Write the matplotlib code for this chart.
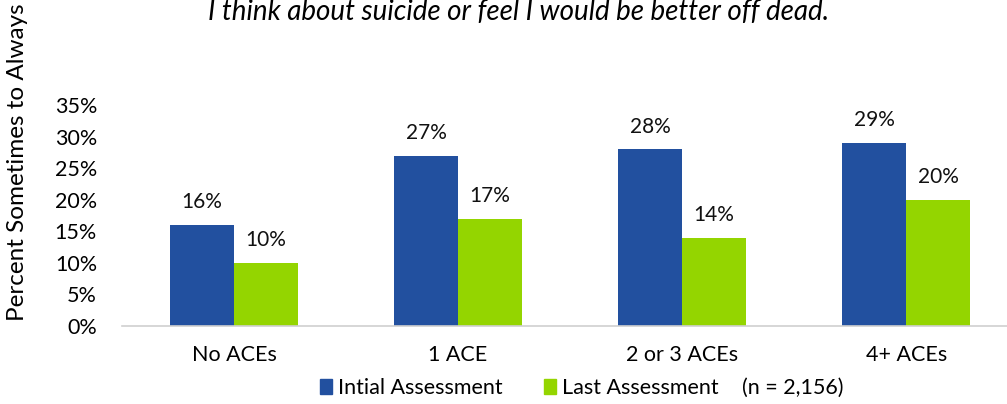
import numpy as np
import matplotlib
matplotlib.use("Agg")
import matplotlib.pyplot as plt
from matplotlib.patches import Patch

plt.rcParams['font.family'] = ['Lato', 'DejaVu Sans']

# Data
groups = ['No ACEs', '1 ACE', '2 or 3 ACEs', '4+ ACEs']
initial = [16, 27, 28, 29]
last = [10, 17, 14, 20]
series_names = ['Intial Assessment', 'Last Assessment']

blue = '#22509f'
green = '#94d500'

fig = plt.figure(figsize=(10.07, 4.04), dpi=100)
ax = fig.add_axes([122 / 1007, 1 - 326 / 404, 1 - 122 / 1007, (326 - 105) / 404])

x = np.arange(len(groups))
w = 0.285
b1 = ax.bar(x - w / 2, initial, w, color=blue)
b2 = ax.bar(x + w / 2, last, w, color=green)

for bars, vals in ((b1, initial), (b2, last)):
    for r, v in zip(bars, vals):
        ax.annotate(f'{v}%', (r.get_x() + r.get_width() / 2, v),
                    xytext=(0, 9), textcoords='offset points',
                    ha='center', va='bottom', fontsize=15, color='#111111')

ax.set_ylim(0, 35)
ax.set_xlim(-0.5, 3.45)
ax.set_yticks(range(0, 36, 5))
ax.set_yticklabels([f'{t}%' for t in range(0, 36, 5)], fontsize=15.5)
ax.set_xticks(x)
ax.set_xticklabels(groups, fontsize=15.5)
ax.tick_params(axis='both', length=0)
ax.tick_params(axis='y', pad=18)
ax.tick_params(axis='x', pad=14)
for s in ('top', 'right', 'left'):
    ax.spines[s].set_visible(False)
ax.spines['bottom'].set_color('#d0d0d0')
ax.spines['bottom'].set_linewidth(1.2)

fig.text(18 / 1007, 1 - 162 / 404, 'Percent Sometimes to Always', rotation=90,
         ha='center', va='center', fontsize=17.5)

fig.text(519 / 1007, 1 - 12 / 404,
         'I think about suicide or feel I would be better off dead.',
         ha='center', va='center', fontsize=20, style='italic')

handles = [Patch(color=blue), Patch(color=green)]
fig.legend(handles, series_names, loc='center left', bbox_to_anchor=(320 / 1007, 1 - 388 / 404),
           ncol=2, frameon=False, fontsize=15.5, handlelength=0.55, handleheight=0.7,
           handletextpad=0.3, columnspacing=1.9, borderpad=0, borderaxespad=0)
fig.text(742 / 1007, 1 - 388 / 404, '(n = 2,156)', ha='left', va='center', fontsize=15.5)

fig.savefig('out.png', dpi=100)
